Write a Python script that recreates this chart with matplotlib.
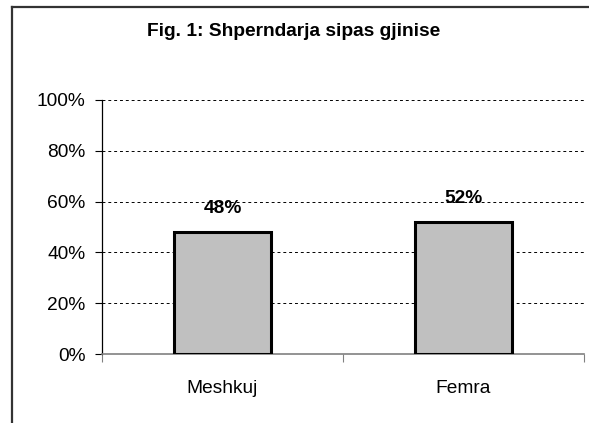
import matplotlib.pyplot as plt
from matplotlib.lines import Line2D
import numpy as np

categories = ['Meshkuj', 'Femra']
values = [48, 52]
yticks = [0, 20, 40, 60, 80, 100]

plt.rcParams['font.family'] = ['Liberation Sans', 'DejaVu Sans']

fig = plt.figure(figsize=(5.89, 4.23), dpi=100)
ax = fig.add_axes([102/589, 1 - 354/423, (584 - 102)/589, (354 - 100)/423])

x = np.arange(len(categories))
bars = ax.bar(x, values, width=0.40, color='#c0c0c0', edgecolor='black',
              linewidth=2.2, zorder=3)
for xi, v in zip(x, values):
    ax.annotate('%d%%' % v, (xi, v), xytext=(0, 17), textcoords='offset points',
                ha='center', va='center', fontsize=13.8, fontweight='bold', zorder=4)

ax.set_xlim(-0.5, 1.5)
ax.set_ylim(0, 100)
ax.set_yticks(yticks)
ax.set_yticklabels(['%d%%' % t for t in yticks], fontsize=13.8)
ax.set_xticks([-0.5, 0.5, 1.5], minor=False)
ax.set_xticklabels([])
ax.set_xticks(x, minor=True)
ax.set_xticklabels(categories, minor=True, fontsize=13.8)
ax.tick_params(axis='x', which='major', direction='out', length=6, width=0.8, color='#808080')
ax.tick_params(axis='x', which='minor', length=0, pad=19)
ax.tick_params(axis='y', direction='out', length=5, width=0.8, pad=7)

for t in yticks[1:]:
    ax.axhline(t, color='black', linewidth=0.7, linestyle=(0, (3, 3)), zorder=1)

ax.spines['top'].set_visible(False)
ax.spines['right'].set_visible(False)
ax.spines['left'].set_color('black')
ax.spines['left'].set_linewidth(0.9)
ax.spines['bottom'].set_color('#808080')
ax.spines['bottom'].set_linewidth(1.2)

fig.text(294/589, 1 - 32/423, 'Fig. 1: Shperndarja sipas gjinise', ha='center',
         va='center', fontsize=13.8, fontweight='bold')

# outer chart frame (top and left only visible)
fig.add_artist(Line2D([12/589, 1.0], [1 - 7/423, 1 - 7/423], color='#333333', linewidth=1.6))
fig.add_artist(Line2D([12/589, 12/589], [0, 1 - 7/423], color='#333333', linewidth=1.6))

fig.savefig('out.png', dpi=100)
